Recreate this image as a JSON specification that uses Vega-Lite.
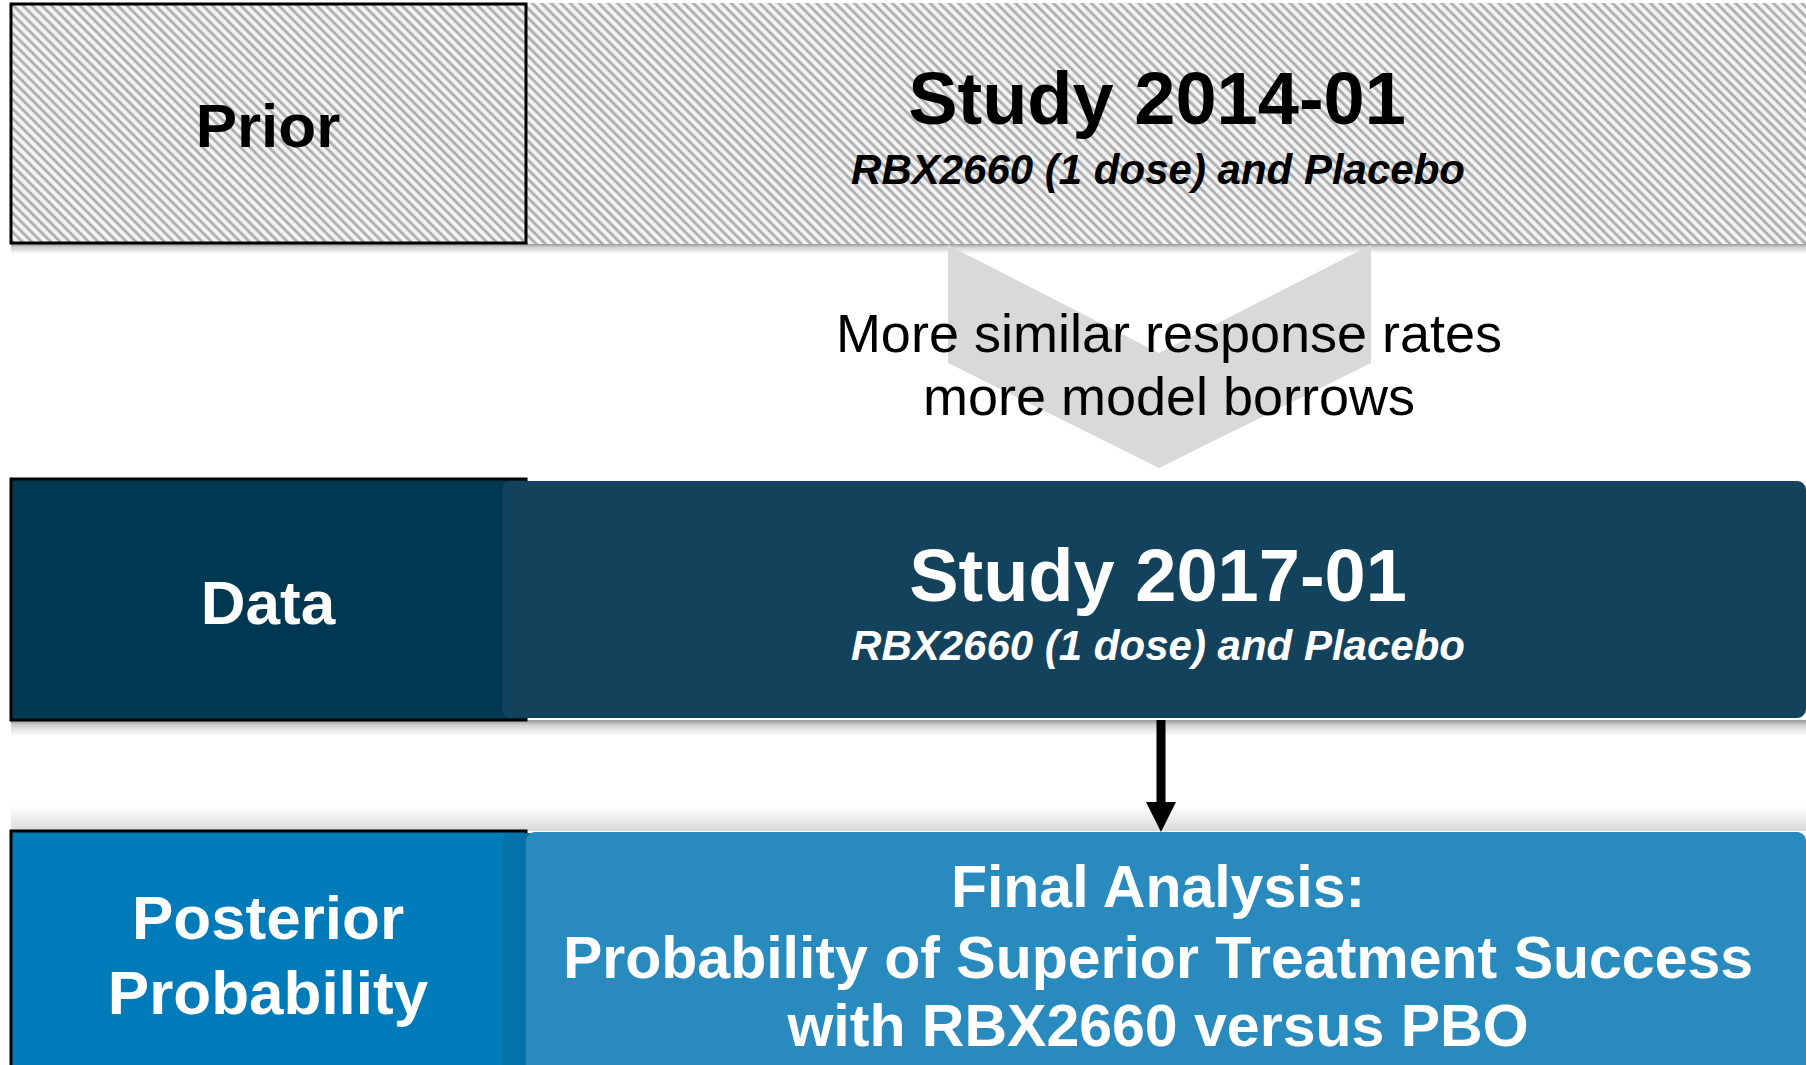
{
  "$schema": "https://vega.github.io/schema/vega-lite/v6.json",
  "width": 1806,
  "height": 1065,
  "padding": 0,
  "autosize": {"type": "none"},
  "background": "#ffffff",
  "config": {"view": {"stroke": null}},
  "datasets": {
    "boxes": [
      {"part": "band", "x0": 11, "x1": 1806, "y0": 3, "y1": 244},
      {"part": "mask", "x0": 0, "x1": 1806, "y0": 0, "y1": 3},
      {"part": "mask", "x0": 0, "x1": 11, "y0": 0, "y1": 244},
      {"part": "mask", "x0": 0, "x1": 1806, "y0": 244, "y1": 1065},
      {"part": "shadowDown", "x0": 11, "x1": 1806, "y0": 244, "y1": 254},
      {"part": "shadowDown", "x0": 11, "x1": 1806, "y0": 720, "y1": 736},
      {"part": "shadowUp", "x0": 11, "x1": 1806, "y0": 806, "y1": 831},
      {"part": "priorTab", "x0": 11, "x1": 526, "y0": 4, "y1": 243},
      {"part": "dataTab", "x0": 11, "x1": 526, "y0": 479, "y1": 720},
      {"part": "postTab", "x0": 11, "x1": 526, "y0": 831, "y1": 1075},
      {"part": "dataPanel", "x0": 502, "x1": 1806, "y0": 481, "y1": 718},
      {"part": "postOverlap", "x0": 502, "x1": 545, "y0": 833, "y1": 1075},
      {"part": "postPanel", "x0": 526, "x1": 1806, "y0": 832, "y1": 1075}
    ],
    "hatch": [
      {"x0": 395.8, "y0": 636.3, "x1": 1422.6, "y1": -390.5}
    ],
    "polys": [
      {"shape": "chevron", "x0": 948, "y0": 245, "y1": 363},
      {"shape": "chevron", "x0": 1159, "y0": 353, "y1": 468},
      {"shape": "chevron", "x0": 1371, "y0": 245, "y1": 363},
      {"shape": "arrowhead", "x0": 1146, "y0": 802, "y1": 802},
      {"shape": "arrowhead", "x0": 1161, "y0": 802, "y1": 832},
      {"shape": "arrowhead", "x0": 1176, "y0": 802, "y1": 802}
    ],
    "links": [
      {"x0": 1161, "y0": 720, "y1": 806}
    ],
    "labels": [
      {"kind": "tab", "stage": "prior", "text": "Prior", "x0": 268, "y0": 147},
      {"kind": "tab", "stage": "data", "text": "Data", "x0": 268, "y0": 624},
      {"kind": "tab", "stage": "posterior", "text": "Posterior", "x0": 268, "y0": 939},
      {"kind": "tab", "stage": "posterior", "text": "Probability", "x0": 268, "y0": 1014},
      {"kind": "title", "stage": "prior", "text": "Study 2014-01", "x0": 1157, "y0": 124},
      {"kind": "title", "stage": "data", "text": "Study 2017-01", "x0": 1158, "y0": 601},
      {"kind": "sub", "stage": "prior", "text": "RBX2660 (1 dose) and Placebo", "x0": 1158, "y0": 184},
      {"kind": "sub", "stage": "data", "text": "RBX2660 (1 dose) and Placebo", "x0": 1158, "y0": 660},
      {"kind": "note", "stage": "bridge", "text": "More similar response rates", "x0": 1169, "y0": 352},
      {"kind": "note", "stage": "bridge", "text": "more model borrows", "x0": 1169, "y0": 415},
      {"kind": "final", "stage": "posterior", "text": "Final Analysis:", "x0": 1158, "y0": 907},
      {"kind": "final", "stage": "posterior", "text": "Probability of Superior Treatment Success", "x0": 1158, "y0": 978},
      {"kind": "final", "stage": "posterior", "text": "with RBX2660 versus PBO", "x0": 1158, "y0": 1046}
    ]
  },
  "encoding": {
    "x": {"field": "x0", "type": "quantitative", "scale": {"domain": [0, 1806], "nice": false, "zero": false}, "axis": null},
    "y": {"field": "y0", "type": "quantitative", "scale": {"domain": [0, 1065], "reverse": true, "nice": false, "zero": false}, "axis": null}
  },
  "resolve": {"scale": {"color": "independent"}},
  "layer": [
    {
      "data": {"name": "boxes"},
      "transform": [{"filter": "datum.part === 'band'"}],
      "mark": {"type": "rect", "fill": "#f2f2f2"},
      "encoding": {"x2": {"field": "x1"}, "y2": {"field": "y1"}}
    },
    {
      "data": {"name": "hatch"},
      "mark": {"type": "rule", "stroke": "#b1b1b1", "strokeWidth": 1460, "strokeDash": [2.9, 3.8], "strokeCap": "butt", "clip": true},
      "encoding": {"x2": {"field": "x1"}, "y2": {"field": "y1"}}
    },
    {
      "data": {"name": "boxes"},
      "transform": [{"filter": "datum.part === 'mask'"}],
      "mark": {"type": "rect", "fill": "#ffffff"},
      "encoding": {"x2": {"field": "x1"}, "y2": {"field": "y1"}}
    },
    {
      "data": {"name": "boxes"},
      "transform": [{"filter": "datum.part === 'shadowDown'"}],
      "mark": {"type": "rect", "fill": {"gradient": "linear", "x1": 0, "y1": 0, "x2": 0, "y2": 1, "stops": [{"offset": 0, "color": "#9a9a9a"}, {"offset": 0.35, "color": "#d4d4d4"}, {"offset": 1, "color": "#ffffff"}]}},
      "encoding": {"x2": {"field": "x1"}, "y2": {"field": "y1"}}
    },
    {
      "data": {"name": "boxes"},
      "transform": [{"filter": "datum.part === 'shadowUp'"}],
      "mark": {"type": "rect", "fill": {"gradient": "linear", "x1": 0, "y1": 0, "x2": 0, "y2": 1, "stops": [{"offset": 0, "color": "#ffffff"}, {"offset": 1, "color": "#d9d9d9"}]}},
      "encoding": {"x2": {"field": "x1"}, "y2": {"field": "y1"}}
    },
    {
      "data": {"name": "polys"},
      "mark": {"type": "area", "interpolate": "linear"},
      "encoding": {
        "y2": {"field": "y1"},
        "detail": {"field": "shape"},
        "color": {"field": "shape", "type": "nominal", "scale": {"domain": ["chevron", "arrowhead"], "range": ["#d9d9d9", "#000000"]}, "legend": null}
      }
    },
    {
      "data": {"name": "boxes"},
      "transform": [{"filter": "indexof(['priorTab','dataTab','postTab'], datum.part) >= 0"}],
      "mark": {"type": "rect", "stroke": "#000000", "strokeWidth": 3, "clip": true},
      "encoding": {
        "x2": {"field": "x1"},
        "y2": {"field": "y1"},
        "color": {"field": "part", "type": "nominal", "scale": {"domain": ["priorTab", "dataTab", "postTab"], "range": ["transparent", "#003852", "#007bba"]}, "legend": null}
      }
    },
    {
      "data": {"name": "boxes"},
      "transform": [{"filter": "indexof(['dataPanel','postOverlap','postPanel'], datum.part) >= 0"}],
      "mark": {"type": "rect", "cornerRadius": 9, "clip": true},
      "encoding": {
        "x2": {"field": "x1"},
        "y2": {"field": "y1"},
        "color": {"field": "part", "type": "nominal", "scale": {"domain": ["dataPanel", "postOverlap", "postPanel"], "range": ["#12425c", "#0471a9", "#288abd"]}, "legend": null}
      }
    },
    {
      "data": {"name": "links"},
      "mark": {"type": "rule", "stroke": "#000000", "strokeWidth": 9, "strokeCap": "butt"},
      "encoding": {"y2": {"field": "y1"}}
    },
    {
      "data": {"name": "labels"},
      "transform": [{"filter": "datum.kind === 'tab'"}],
      "mark": {"type": "text", "font": "Liberation Sans", "fontWeight": "bold", "fontSize": 62, "align": "center", "baseline": "alphabetic"},
      "encoding": {
        "text": {"field": "text"},
        "color": {"field": "stage", "type": "nominal", "scale": {"domain": ["prior", "bridge", "data", "posterior"], "range": ["#000000", "#000000", "#ffffff", "#ffffff"]}, "legend": null}
      }
    },
    {
      "data": {"name": "labels"},
      "transform": [{"filter": "datum.kind === 'title'"}],
      "mark": {"type": "text", "font": "Liberation Sans", "fontWeight": "bold", "fontSize": 74, "align": "center", "baseline": "alphabetic"},
      "encoding": {
        "text": {"field": "text"},
        "color": {"field": "stage", "type": "nominal", "scale": {"domain": ["prior", "bridge", "data", "posterior"], "range": ["#000000", "#000000", "#ffffff", "#ffffff"]}, "legend": null}
      }
    },
    {
      "data": {"name": "labels"},
      "transform": [{"filter": "datum.kind === 'sub'"}],
      "mark": {"type": "text", "font": "Liberation Sans", "fontWeight": "bold", "fontStyle": "italic", "fontSize": 42, "align": "center", "baseline": "alphabetic"},
      "encoding": {
        "text": {"field": "text"},
        "color": {"field": "stage", "type": "nominal", "scale": {"domain": ["prior", "bridge", "data", "posterior"], "range": ["#000000", "#000000", "#ffffff", "#ffffff"]}, "legend": null}
      }
    },
    {
      "data": {"name": "labels"},
      "transform": [{"filter": "datum.kind === 'note'"}],
      "mark": {"type": "text", "font": "Liberation Sans", "fontWeight": "normal", "fontSize": 54, "align": "center", "baseline": "alphabetic"},
      "encoding": {
        "text": {"field": "text"},
        "color": {"field": "stage", "type": "nominal", "scale": {"domain": ["prior", "bridge", "data", "posterior"], "range": ["#000000", "#000000", "#ffffff", "#ffffff"]}, "legend": null}
      }
    },
    {
      "data": {"name": "labels"},
      "transform": [{"filter": "datum.kind === 'final'"}],
      "mark": {"type": "text", "font": "Liberation Sans", "fontWeight": "bold", "fontSize": 59, "align": "center", "baseline": "alphabetic"},
      "encoding": {
        "text": {"field": "text"},
        "color": {"field": "stage", "type": "nominal", "scale": {"domain": ["prior", "bridge", "data", "posterior"], "range": ["#000000", "#000000", "#ffffff", "#ffffff"]}, "legend": null}
      }
    }
  ]
}
